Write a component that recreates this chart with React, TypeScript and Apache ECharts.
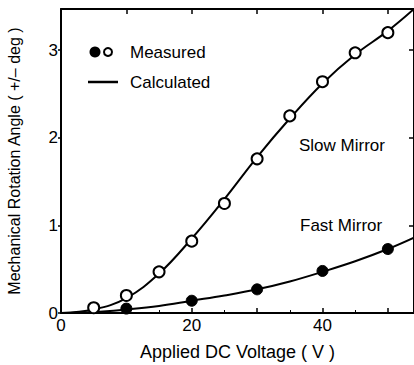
import React, { useEffect, useRef } from "react";
import * as echarts from "echarts";

const measuredX: number[] = [5, 10, 15, 20, 25, 30, 35, 40, 45, 50];
const slowMeasured: number[] = [0.06, 0.2, 0.47, 0.82, 1.25, 1.76, 2.25, 2.64, 2.97, 3.2];
const fastX: number[] = [10, 20, 30, 40, 50];
const fastMeasured: number[] = [0.05, 0.14, 0.27, 0.48, 0.73];

const calcX: number[] = [0, 5, 10, 15, 20, 25, 30, 35, 40, 45, 50, 54];
const slowCalc: number[] = [0, 0.04, 0.17, 0.45, 0.85, 1.3, 1.78, 2.22, 2.62, 2.95, 3.22, 3.47];
const fastCalc: number[] = [0, 0.01, 0.04, 0.08, 0.14, 0.2, 0.27, 0.36, 0.47, 0.59, 0.73, 0.86];

const FONT = "Liberation Sans, Arial, sans-serif";

export default function App() {
  const ref = useRef<HTMLDivElement>(null);
  useEffect(() => {
    if (!ref.current) return;
    const chart = echarts.init(ref.current, null, { renderer: "svg" });
    const pair = (xs: number[], ys: number[]) => xs.map((x, i) => [x, ys[i]]);
    chart.setOption({
      animation: false,
      backgroundColor: "#fff",
      grid: { left: 61, top: 9, right: 0, bottom: 52, containLabel: false, outerBoundsMode: "none" },
      xAxis: [
        {
          type: "value",
          min: 0,
          max: 54,
          interval: 10,
          name: "Applied DC Voltage ( V )",
          nameLocation: "middle",
          nameGap: 30,
          nameTextStyle: { fontFamily: FONT, fontSize: 18, color: "#000" },
          axisLine: { show: true, onZero: false, lineStyle: { color: "#000", width: 2 } },
          axisTick: { show: true, inside: true, length: 5, lineStyle: { color: "#000", width: 1.5 } },
          minorTick: { show: true, splitNumber: 2, length: 3, lineStyle: { color: "#000" } },
          axisLabel: {
            fontFamily: FONT,
            fontSize: 17,
            color: "#000",
            margin: 4,
            showMaxLabel: false,
            formatter: (v: number) => (v % 20 === 0 ? String(v) : ""),
          },
          splitLine: { show: false },
        },
        {
          type: "value",
          position: "top",
          min: 0,
          max: 54,
          interval: 10,
          axisLine: { show: true, onZero: false, lineStyle: { color: "#000", width: 2 } },
          axisTick: { show: true, inside: true, length: 5, lineStyle: { color: "#000", width: 1.5 } },
          axisLabel: { show: false },
          splitLine: { show: false },
        },
      ],
      yAxis: [
        {
          type: "value",
          min: 0,
          max: 3.47,
          interval: 1,
          name: "Mechanical Rotation Angle ( +/– deg )",
          nameLocation: "middle",
          nameGap: 39,
          nameTextStyle: { fontFamily: FONT, fontSize: 16, color: "#000" },
          axisLine: { show: true, onZero: false, lineStyle: { color: "#000", width: 2 } },
          axisTick: { show: true, inside: false, length: 3, lineStyle: { color: "#000", width: 1.5 } },
          axisLabel: {
            fontFamily: FONT,
            fontSize: 17,
            color: "#000",
            margin: 3,
            showMaxLabel: false,
            formatter: (v: number) => (Number.isInteger(v) ? String(v) : ""),
          },
          splitLine: { show: false },
        },
        {
          type: "value",
          position: "right",
          min: 0,
          max: 3.47,
          interval: 1,
          axisLine: { show: true, onZero: false, lineStyle: { color: "#000", width: 2 } },
          axisTick: { show: true, inside: true, length: 5, lineStyle: { color: "#000", width: 1.5 } },
          axisLabel: { show: false },
          splitLine: { show: false },
        },
      ],
      series: [
        {
          type: "line",
          data: pair(calcX, slowCalc),
          smooth: 0.4,
          showSymbol: false,
          lineStyle: { color: "#000", width: 2 },
          silent: true,
          z: 2,
        },
        {
          type: "line",
          data: pair(calcX, fastCalc),
          smooth: 0.4,
          showSymbol: false,
          lineStyle: { color: "#000", width: 2 },
          silent: true,
          z: 2,
        },
        {
          type: "scatter",
          data: pair(measuredX, slowMeasured),
          symbol: "circle",
          symbolSize: 11,
          itemStyle: { color: "#fff", borderColor: "#000", borderWidth: 2, opacity: 1 },
          z: 3,
        },
        {
          type: "scatter",
          data: pair(fastX, fastMeasured),
          symbol: "circle",
          symbolSize: 11,
          itemStyle: { color: "#000", borderColor: "#000", borderWidth: 1, opacity: 1 },
          z: 3,
        },
      ],
      graphic: [
        { type: "circle", shape: { cx: 95, cy: 52, r: 5.5 }, style: { fill: "#000" } },
        { type: "circle", shape: { cx: 108, cy: 52, r: 4 }, style: { fill: "#fff", stroke: "#000", lineWidth: 2 } },
        {
          type: "text",
          x: 130,
          y: 52,
          style: { text: "Measured", font: `17px ${FONT}`, fill: "#000", verticalAlign: "middle" },
        },
        { type: "line", shape: { x1: 88, y1: 82, x2: 118, y2: 82 }, style: { stroke: "#000", lineWidth: 2.5 } },
        {
          type: "text",
          x: 130,
          y: 82,
          style: { text: "Calculated", font: `17px ${FONT}`, fill: "#000", verticalAlign: "middle" },
        },
        {
          type: "text",
          x: 299,
          y: 145,
          style: { text: "Slow Mirror", font: `17px ${FONT}`, fill: "#000", verticalAlign: "middle" },
        },
        {
          type: "text",
          x: 300,
          y: 225,
          style: { text: "Fast Mirror", font: `17px ${FONT}`, fill: "#000", verticalAlign: "middle" },
        },
      ],
    });
    return () => chart.dispose();
  }, []);
  return <div ref={ref} style={{ width: 414, height: 365, position: "absolute", left: 0, top: 0 }} />;
}
